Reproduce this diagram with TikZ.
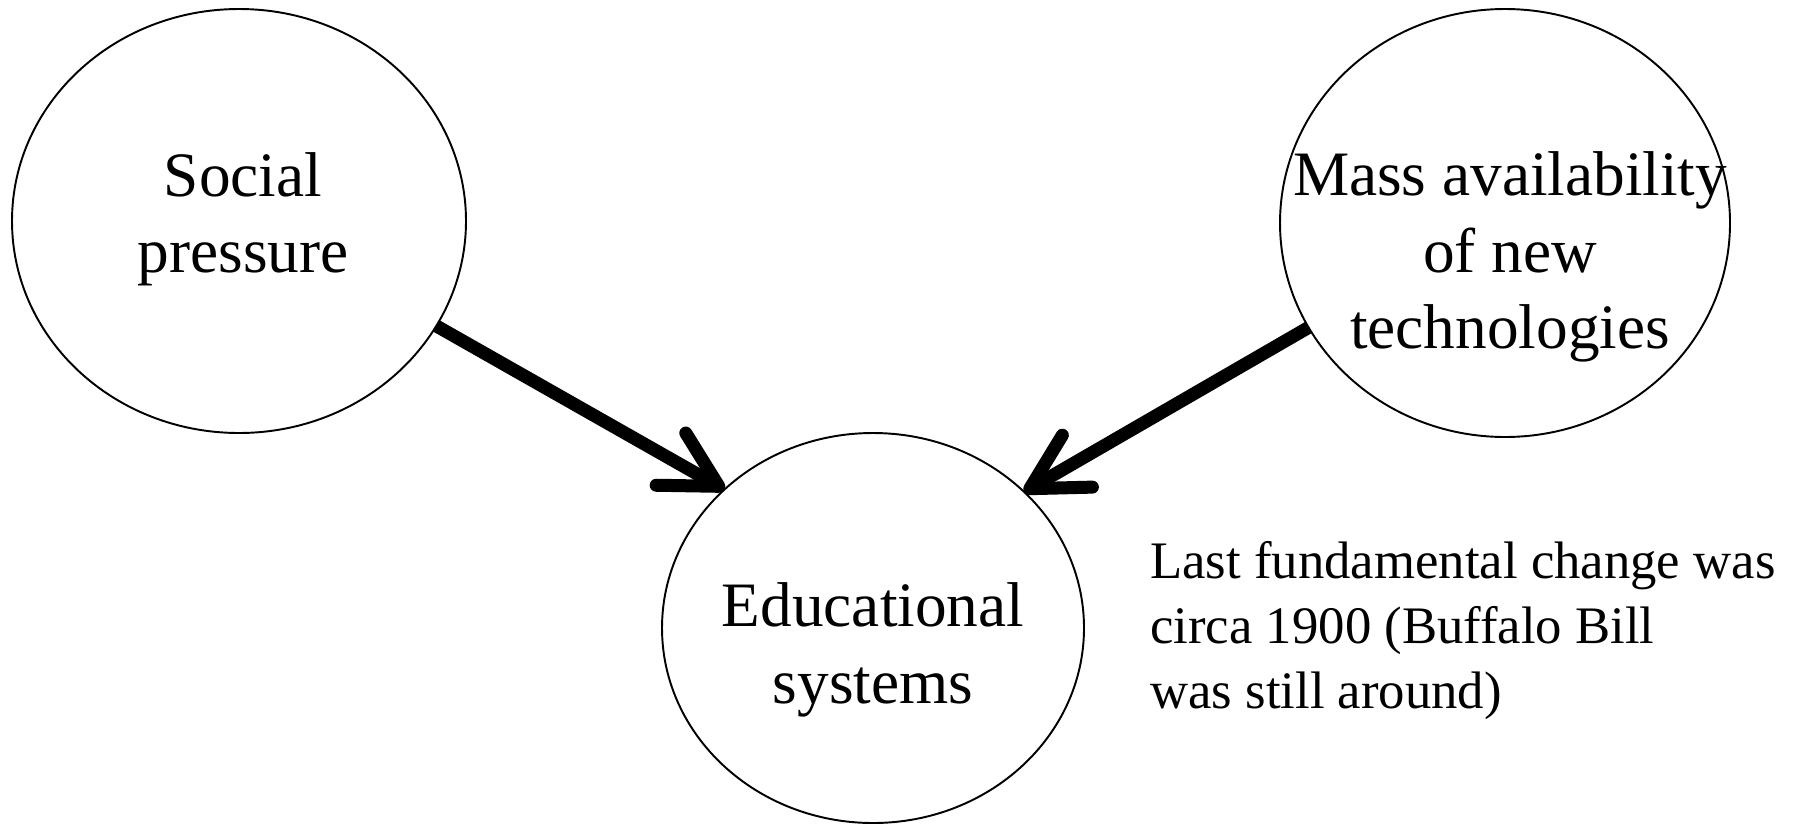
\documentclass[tikz,border=0pt]{standalone}
\usepackage{fontspec}
\setmainfont{Liberation Serif}
\usetikzlibrary{positioning,calc,arrows.meta,shapes.geometric}
\tikzset{font=\fontsize{36}{43.5}\selectfont}

\begin{document}
\begin{tikzpicture}
	\useasboundingbox (0, 0) rectangle (35.98, -16.48);
	\tikzstyle{bubble}=[ellipse, draw, line width=1.1pt, inner sep=0pt, outer sep=0pt]
	\tikzstyle{bubtext}=[align=center, inner sep=0pt]
	\tikzstyle{push}=[line width=7.4pt, -{Straight Barb[length=1.1cm, width=1.2cm, round]}]

	\node[bubble, minimum width=9.08cm, minimum height=8.48cm] (sp) at (4.78, -4.42) {};
	\node[bubble, minimum width=9.0cm, minimum height=8.56cm] (mat) at (30.10, -4.46) {};
	\node[bubble, minimum width=8.44cm, minimum height=7.8cm] (es) at (17.46, -12.56) {};

	\node[bubtext] (sptext) at ($(sp.center)+(0.08, 0.03)$) {Social\\pressure};
	\node[bubtext] (mattext) at ($(mat.center)+(0.1, -0.68)$) {Mass availability\\of new\\technologies};
	\node[bubtext] (estext) at ($(es.center)+(0, -0.44)$) {Educational\\systems};

	\node[align=left, inner sep=0pt, anchor=north west, font=\fontsize{30}{37}\selectfont] (note) at (23.0, -10.82) {Last fundamental change was\\circa 1900 (Buffalo Bill\\was still around)};

	\draw [push] (sp.-28.4) to (es.137.6);
	\draw [push] (mat.208.7) to (es.42.2);
\end{tikzpicture}
\end{document}
